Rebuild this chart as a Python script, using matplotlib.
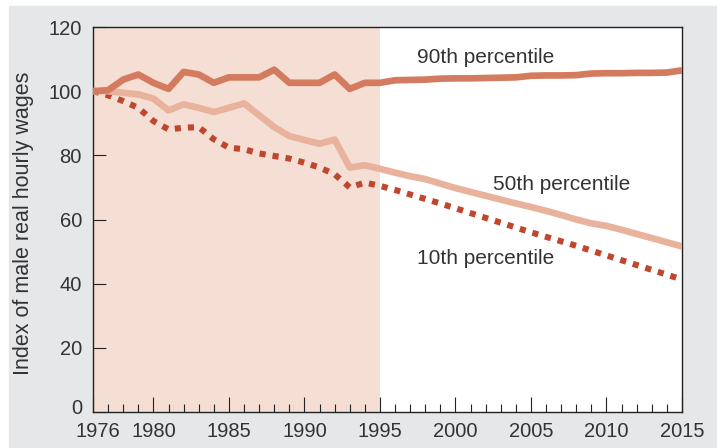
import numpy as np
import matplotlib
matplotlib.use("Agg")
from matplotlib import pyplot as plt
from matplotlib import transforms
from matplotlib.patches import Rectangle

plt.rcParams['font.family'] = ['Liberation Sans', 'DejaVu Sans']

years = np.arange(1976, 2016)

p90 = [100.0, 100.3, 103.6, 105.2, 102.6, 100.7, 106.0, 105.2, 102.6, 104.3,
       104.3, 104.3, 106.7, 102.6, 102.6, 102.6, 105.2, 100.7, 102.6, 102.6,
       103.4, 103.5, 103.6, 103.9, 104.0, 104.0, 104.1, 104.2, 104.3, 104.8,
       104.9, 104.9, 105.0, 105.5, 105.6, 105.6, 105.7, 105.7, 105.8, 106.5]

p50 = [100.0, 100.0, 99.5, 99.0, 97.7, 94.0, 95.9, 94.8, 93.5, 94.8,
       96.2, 92.5, 88.8, 86.0, 84.8, 83.6, 84.9, 76.2, 76.9, 75.8,
       74.6, 73.5, 72.6, 71.2, 69.8, 68.6, 67.4, 66.2, 65.0, 63.9,
       62.7, 61.4, 60.0, 58.8, 58.0, 56.8, 55.5, 54.2, 52.9, 51.6]

p10 = [100.0, 98.7, 96.9, 94.8, 90.7, 88.1, 88.6, 88.8, 85.0, 82.4,
       81.9, 80.6, 79.8, 79.0, 77.7, 76.2, 74.1, 70.0, 71.5, 70.5,
       69.2, 67.8, 66.4, 65.0, 63.5, 62.0, 60.5, 59.0, 57.5, 56.0,
       54.6, 53.2, 51.8, 50.3, 48.8, 47.3, 45.8, 44.3, 42.8, 41.3]

xtick_labels = [1976, 1980, 1985, 1990, 1995, 2000, 2005, 2010, 2015]
ytick_values = [0, 20, 40, 60, 80, 100, 120]

txt = '#333333'

fig = plt.figure(figsize=(7.17, 4.48), dpi=100)
fig.patch.set_facecolor('white')
fig.patches.append(Rectangle((9 / 717, 0.002), 1 - 9 / 717, 441 / 448,
                             transform=fig.transFigure, color='#e6e7e9',
                             zorder=-10))

ax = fig.add_axes([93 / 717, 1 - 412 / 448, 589 / 717, 385 / 448])
ax.set_facecolor('white')

ax.axvspan(1976, 1995, color='#f5dfd5', zorder=0, lw=0)

ax.plot(years, p10, color='#c0462e', lw=4.4, linestyle=(0, (1, 1.15)),
        dash_capstyle='butt', zorder=3)
ax.plot(years, p50, color='#e9b29d', lw=4.8, solid_capstyle='butt', zorder=4)
ax.plot(years, p90, color='#d47a5f', lw=4.8, solid_capstyle='butt', zorder=5)

ax.text(1997.45, 110.5, '90th percentile', fontsize=15, color=txt, va='center')
ax.text(2002.5, 71.0, '50th percentile', fontsize=15, color=txt, va='center')
ax.text(1997.45, 48.0, '10th percentile', fontsize=15, color=txt, va='center')

ax.set_xlim(1976, 2015)
ax.set_ylim(0, 120)
ax.set_xticks(xtick_labels)
ax.set_xticklabels([str(v) for v in xtick_labels])
ax.set_xticks(years, minor=True)
ax.set_yticks(ytick_values)

ax.tick_params(axis='x', which='major', direction='in', length=10.8, width=0.8,
               pad=7, labelsize=14.5, labelcolor=txt, color='#222222')
ax.tick_params(axis='x', which='minor', direction='in', length=5.8, width=0.8,
               color='#222222')
ax.tick_params(axis='y', which='major', direction='in', length=9.5, width=0.8,
               pad=8, labelsize=14.5, labelcolor=txt, color='#222222')

# nudge the first x label right and the zero label up, like the original
lab = ax.get_xticklabels()[0]
lab.set_transform(lab.get_transform() + transforms.ScaledTranslation(5 / 100, 0, fig.dpi_scale_trans))
lab0 = ax.get_yticklabels()[0]
lab0.set_transform(lab0.get_transform() + transforms.ScaledTranslation(0, 6 / 100, fig.dpi_scale_trans))

for s in ax.spines.values():
    s.set_color('#222222')
    s.set_linewidth(1.0)

ax.set_ylabel('Index of male real hourly wages', fontsize=15.5, color=txt)
ax.yaxis.set_label_coords(-0.10, 0.49)

fig.savefig('out.png', dpi=100, facecolor=fig.get_facecolor())
